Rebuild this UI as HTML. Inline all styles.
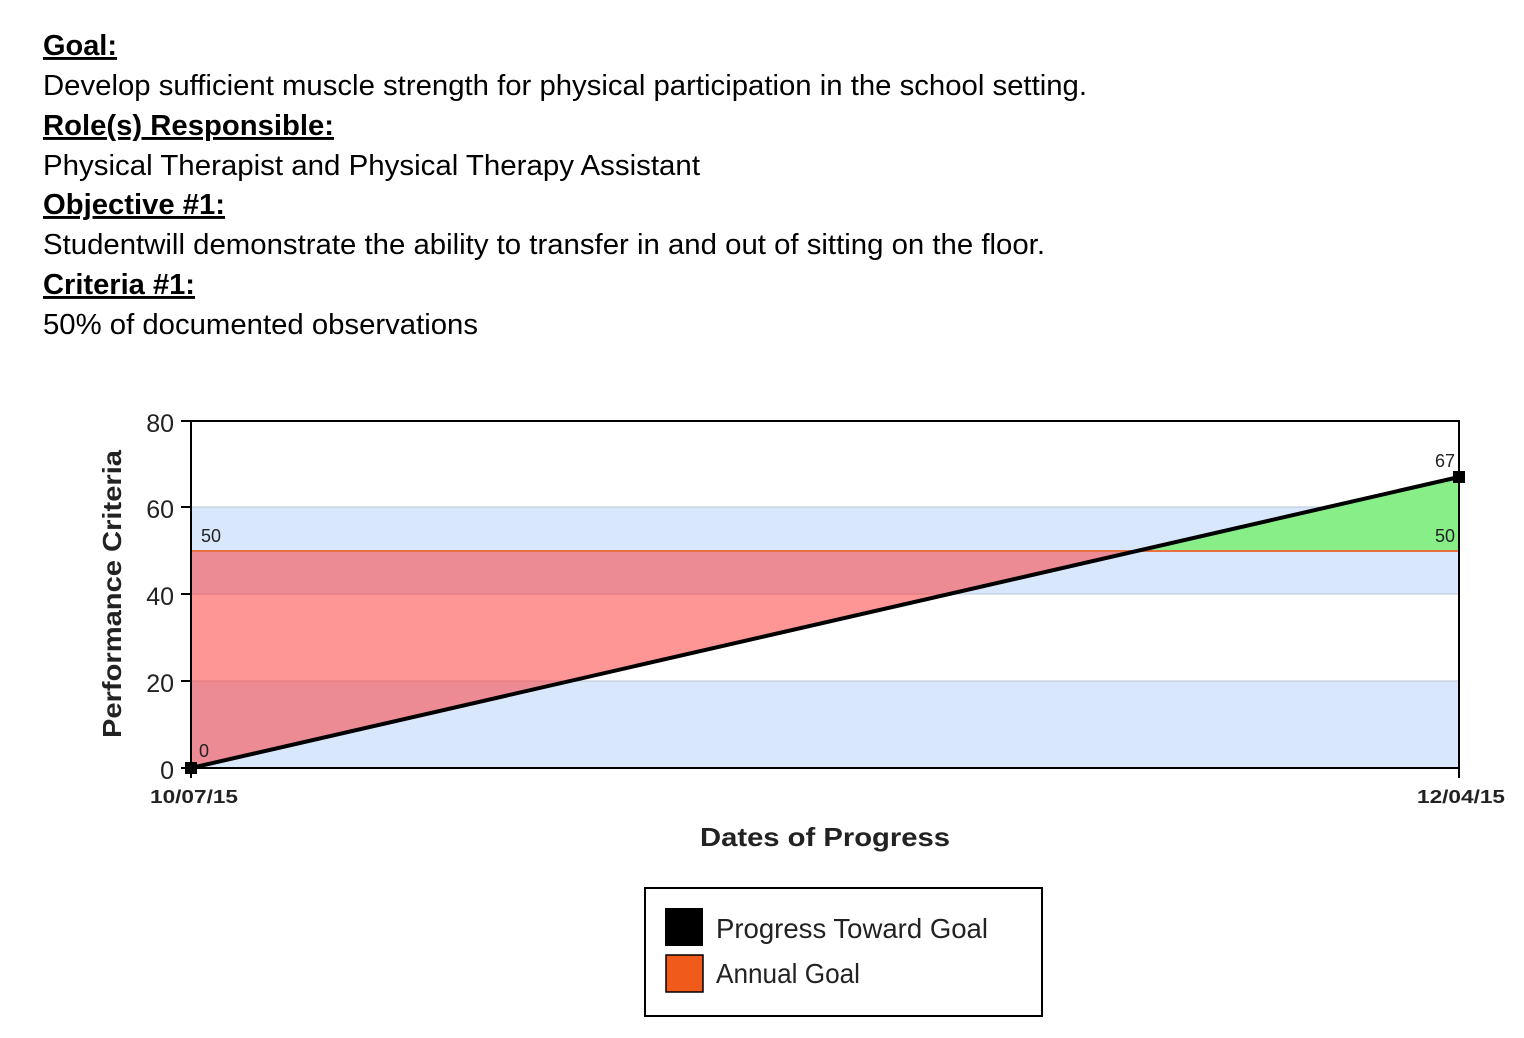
<!DOCTYPE html>
<html><head><style>
html,body{margin:0;padding:0;background:#fff;}
svg{display:block;}
</style></head><body>
<svg width="1524" height="1038" xmlns="http://www.w3.org/2000/svg" font-family="Liberation Sans, Arial, sans-serif">
<g font-size="29" fill="#000" lengthAdjust="spacingAndGlyphs">
<text x="43" y="55" font-weight="bold" text-decoration="underline" textLength="74" lengthAdjust="spacingAndGlyphs">Goal:</text>
<text x="43" y="95" textLength="1044" lengthAdjust="spacingAndGlyphs">Develop sufficient muscle strength for physical participation in the school setting.</text>
<text x="43" y="135" font-weight="bold" text-decoration="underline" textLength="291" lengthAdjust="spacingAndGlyphs">Role(s) Responsible:</text>
<text x="43" y="175" textLength="657" lengthAdjust="spacingAndGlyphs">Physical Therapist and Physical Therapy Assistant</text>
<text x="43" y="214" font-weight="bold" text-decoration="underline" textLength="182" lengthAdjust="spacingAndGlyphs">Objective #1:</text>
<text x="43" y="254" textLength="1002" lengthAdjust="spacingAndGlyphs">Studentwill demonstrate the ability to transfer in and out of sitting on the floor.</text>
<text x="43" y="294" font-weight="bold" text-decoration="underline" textLength="152" lengthAdjust="spacingAndGlyphs">Criteria #1:</text>
<text x="43" y="334" textLength="435" lengthAdjust="spacingAndGlyphs">50% of documented observations</text>
</g>
<rect x="191" y="421" width="1268" height="347" fill="#fff"/>
<rect x="191" y="507" width="1268" height="87" fill="#d8e7fb"/>
<rect x="191" y="681" width="1268" height="87" fill="#d8e7fb"/>
<g stroke="#b8c4d0" stroke-width="1">
<line x1="191" y1="507" x2="1459" y2="507"/>
<line x1="191" y1="594" x2="1459" y2="594"/>
<line x1="191" y1="681" x2="1459" y2="681"/>
</g>
<polygon points="191,551 1137,551 191,768" fill="#ff4040" fill-opacity="0.55"/>
<polygon points="1137,551 1459,551 1459,477" fill="#88ee88"/>
<line x1="191" y1="551" x2="1459" y2="551" stroke="#e87040" stroke-width="2"/>
<line x1="191" y1="768" x2="1459" y2="477" stroke="#000" stroke-width="4"/>
<rect x="1453" y="471" width="12" height="12" fill="#000"/>
<rect x="185" y="762" width="12" height="12" fill="#000"/>
<rect x="191" y="421" width="1268" height="347" fill="none" stroke="#000" stroke-width="2"/>
<g stroke="#000" stroke-width="2">
<line x1="181" y1="421" x2="191" y2="421"/><line x1="181" y1="507" x2="191" y2="507"/>
<line x1="181" y1="594" x2="191" y2="594"/><line x1="181" y1="681" x2="191" y2="681"/>
<line x1="181" y1="768" x2="191" y2="768"/>
<line x1="191" y1="768" x2="191" y2="778"/><line x1="1459" y1="768" x2="1459" y2="778"/>
</g>
<g font-size="25" fill="#222" text-anchor="end">
<text x="174" y="432">80</text><text x="174" y="518">60</text><text x="174" y="605">40</text>
<text x="174" y="692">20</text><text x="174" y="779">0</text>
</g>
<g font-size="18" fill="#222">
<text x="201" y="542">50</text>
<text x="1455" y="542" text-anchor="end">50</text>
<text x="1455" y="467" text-anchor="end">67</text>
<text x="199" y="757">0</text>
<text x="150" y="803" font-weight="bold" font-size="18" textLength="88" lengthAdjust="spacingAndGlyphs">10/07/15</text>
<text x="1417" y="803" font-weight="bold" font-size="18" textLength="88" lengthAdjust="spacingAndGlyphs">12/04/15</text>
</g>
<text x="700" y="846" font-size="26" font-weight="bold" fill="#222" textLength="250" lengthAdjust="spacingAndGlyphs">Dates of Progress</text>
<text transform="translate(121,738) rotate(-90)" font-size="26" font-weight="bold" fill="#222" textLength="288" lengthAdjust="spacingAndGlyphs">Performance Criteria</text>
<rect x="645" y="888" width="397" height="128" fill="#fff" stroke="#000" stroke-width="2"/>
<rect x="665" y="908" width="38" height="38" fill="#000"/>
<rect x="666" y="955" width="37" height="37" fill="#f05a1a" stroke="#000" stroke-width="1.5"/>
<g font-size="28" fill="#222">
<text x="716" y="938" textLength="272" lengthAdjust="spacingAndGlyphs">Progress Toward Goal</text>
<text x="716" y="983" textLength="144" lengthAdjust="spacingAndGlyphs">Annual Goal</text>
</g>
</svg>
</body></html>
